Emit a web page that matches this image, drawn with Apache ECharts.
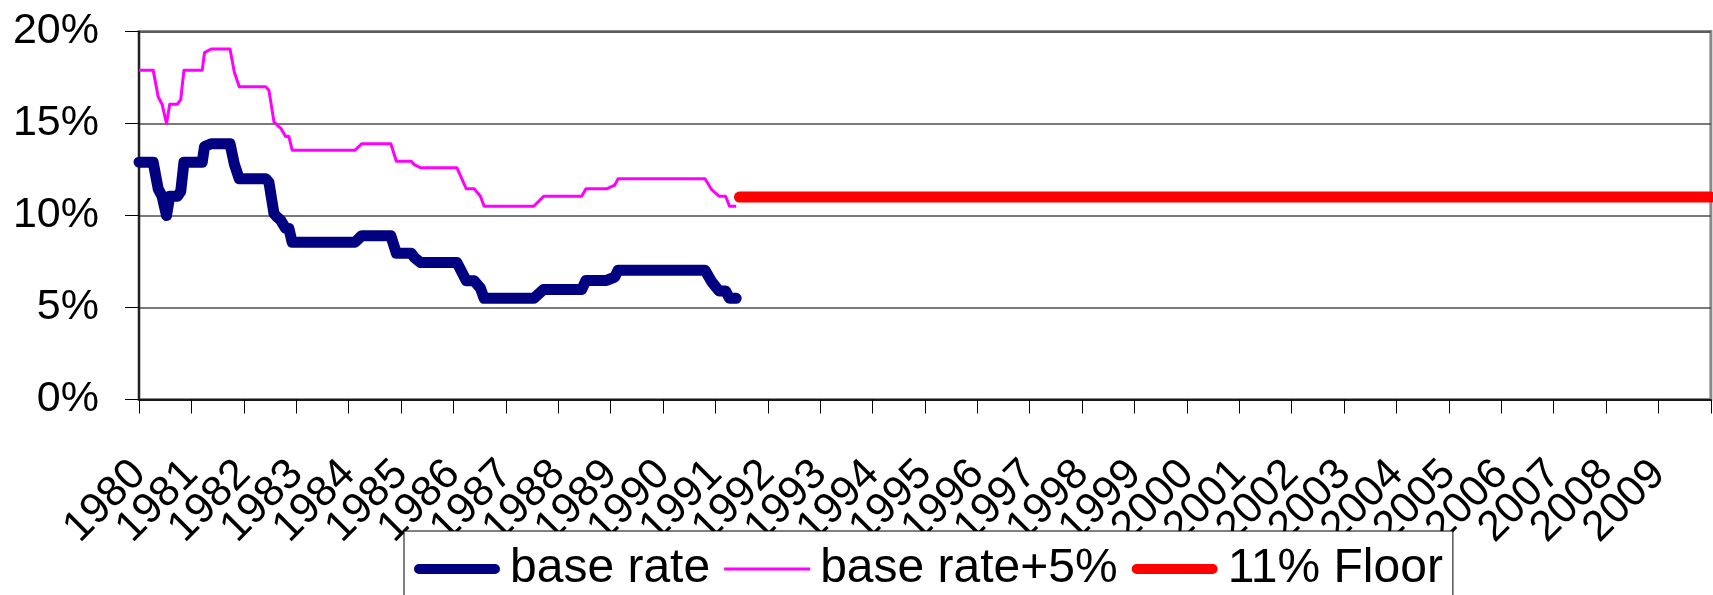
<!DOCTYPE html>
<html>
<head>
<meta charset="utf-8">
<script src="https://cdn.jsdelivr.net/npm/echarts@6/dist/echarts.min.js"></script>
<style>
html,body{margin:0;padding:0;background:#fff;}
#chart{width:1713px;height:595px;}
</style>
</head>
<body>
<div id="chart"></div>
<script>
// ---- data ----
const yearLabels = ['1980','1981','1982','1983','1984','1985','1986','1987','1988','1989',
  '1990','1991','1992','1993','1994','1995','1996','1997','1998','1999',
  '2000','2001','2002','2003','2004','2005','2006','2007','2008','2009'];

const dates = [1980.00, 1980.27, 1980.366, 1980.44, 1980.525, 1980.587, 1980.733, 1980.796, 1980.858,
  1981.207, 1981.25, 1981.377, 1981.737, 1981.819, 1981.913,
  1982.419, 1982.48, 1982.576, 1982.64, 1982.703, 1982.798, 1982.86, 1982.923,
  1984.124, 1984.249, 1984.806, 1984.912,
  1985.196, 1985.26, 1985.37,
  1986.067, 1986.247, 1986.397, 1986.516, 1986.587,
  1987.534, 1987.723,
  1988.449, 1988.53, 1988.922,
  1989.079, 1989.144,
  1990.803, 1990.93,
  1991.069, 1991.195, 1991.271, 1991.398];

const baseRate = [12.9, 12.9, 11.45, 11.05, 10.0, 11.05, 11.05, 11.3, 12.9,
  12.9, 13.75, 13.9, 13.9, 12.8, 12.0,
  12.0, 11.8, 10.1, 9.9, 9.75, 9.3, 9.3, 8.55,
  8.55, 8.9, 8.9, 7.95,
  7.95, 7.7, 7.45,
  7.45, 6.45, 6.45, 6.05, 5.5,
  5.5, 5.98,
  5.98, 6.47, 6.47,
  6.65, 7.02,
  7.02, 6.4, 5.9,
  5.9, 5.5, 5.5];

const baseRatePlus5 = [17.9, 17.9, 16.45, 16.05, 15.0, 16.05, 16.05, 16.3, 17.9,
  17.9, 18.85, 19.05, 19.05, 17.8, 17.0,
  17.0, 16.8, 15.1, 14.9, 14.75, 14.3, 14.3, 13.55,
  13.55, 13.9, 13.9, 12.95,
  12.95, 12.75, 12.6,
  12.6, 11.45, 11.45, 11.05, 10.5,
  10.5, 11.05,
  11.05, 11.45, 11.45,
  11.65, 12.0,
  12.0, 11.4, 11.05,
  11.05, 10.5, 10.5];

const floorDates = [1991.46, 2010];
const floorValues = [11, 11];

const yTicks = [0, 5, 10, 15, 20];
const seriesNames = ['base rate', 'base rate+5%', '11% Floor'];
const seriesColors = ['#000080', '#ff00ff', '#ff0000'];

// ---- chart ----
const FONT = '"Liberation Sans", Arial, sans-serif';
const pair = (xs, ys) => xs.map((x, i) => [x, ys[i]]);

// legend icons: rounded thick bar / thin bar inside an 86x14 box (tiny corner specks fix the box)
const SPECKS = 'M0,0h0.01v0.01h-0.01z M85.99,13.99h0.01v0.01h-0.01z ';
const thickIcon = 'path://' + SPECKS + 'M5,2H81A5,5,0,0,1,81,12H5A5,5,0,0,1,5,2z';
const thinIcon = 'path://' + SPECKS + 'M0,5.5H86V8.5H0z';

const startYear = 1980, endYear = 2010;
// category axis carrying the year tick labels (one slot per year, last slot is the off-canvas edge)
const yearSlots = yearLabels.concat(['']);

const chart = echarts.init(document.getElementById('chart'), null, {renderer: 'canvas'});
chart.setOption({
  animation: false,
  backgroundColor: '#ffffff',
  textStyle: {fontFamily: FONT},
  grid: {
    left: 139, top: 31.5, right: -10, bottom: 195.5,
    show: true, borderColor: '#8a8a8a', borderWidth: 3, backgroundColor: '#ffffff'
  },
  legend: {
    data: [
      {name: seriesNames[0], icon: thickIcon},
      {name: seriesNames[1], icon: thinIcon},
      {name: seriesNames[2], icon: thickIcon}
    ],
    left: 404, top: 531,
    orient: 'horizontal',
    itemWidth: 86, itemHeight: 14, itemGap: 14,
    padding: [14, 10, 40, 10],
    borderColor: '#000', borderWidth: 1, backgroundColor: '#fff',
    textStyle: {fontSize: 48, color: '#000', fontFamily: FONT, padding: [0, 0, 0, 5]},
    z: 10
  },
  xAxis: [
    {
      // data axis (time in years)
      type: 'value',
      min: startYear, max: endYear, interval: 1,
      axisLine: {show: true, lineStyle: {color: '#000', width: 1.5}},
      axisTick: {show: false},
      splitLine: {show: false},
      axisLabel: {show: false}
    },
    {
      // label/tick axis: one category per year, positioned on the same scale
      type: 'category',
      data: yearSlots,
      boundaryGap: false,
      position: 'bottom',
      axisLine: {show: false},
      axisTick: {show: true, interval: 0, length: 14, lineStyle: {color: '#000', width: 1}},
      splitLine: {show: false},
      axisLabel: {
        interval: 0, rotate: 45, margin: 68, fontSize: 43, color: '#000', fontFamily: FONT
      }
    }
  ],
  yAxis: {
    type: 'value',
    min: yTicks[0], max: yTicks[yTicks.length - 1], interval: 5,
    axisLine: {show: true, lineStyle: {color: '#000', width: 1.5}},
    axisTick: {show: true, length: 14, lineStyle: {color: '#000', width: 1}},
    splitLine: {show: true, lineStyle: {color: '#4d4d4d', width: 1.5}},
    axisLabel: {margin: 40, fontSize: 43, color: '#000', fontFamily: FONT, formatter: '{value}%',
      showMinLabel: true, showMaxLabel: true}
  },
  series: [
    {
      name: seriesNames[0], type: 'line', xAxisIndex: 0, data: pair(dates, baseRate),
      showSymbol: false, symbol: 'none', z: 3,
      lineStyle: {color: seriesColors[0], width: 11, cap: 'round', join: 'round'},
      itemStyle: {color: seriesColors[0]}
    },
    {
      name: seriesNames[1], type: 'line', xAxisIndex: 0, data: pair(dates, baseRatePlus5),
      showSymbol: false, symbol: 'none', z: 4,
      lineStyle: {color: seriesColors[1], width: 3, join: 'round'},
      itemStyle: {color: seriesColors[1]}
    },
    {
      name: seriesNames[2], type: 'line', xAxisIndex: 0, data: pair(floorDates, floorValues),
      showSymbol: false, symbol: 'none', z: 3,
      lineStyle: {color: seriesColors[2], width: 11, cap: 'round', join: 'round'},
      itemStyle: {color: seriesColors[2]}
    }
  ]
});
</script>
</body>
</html>
